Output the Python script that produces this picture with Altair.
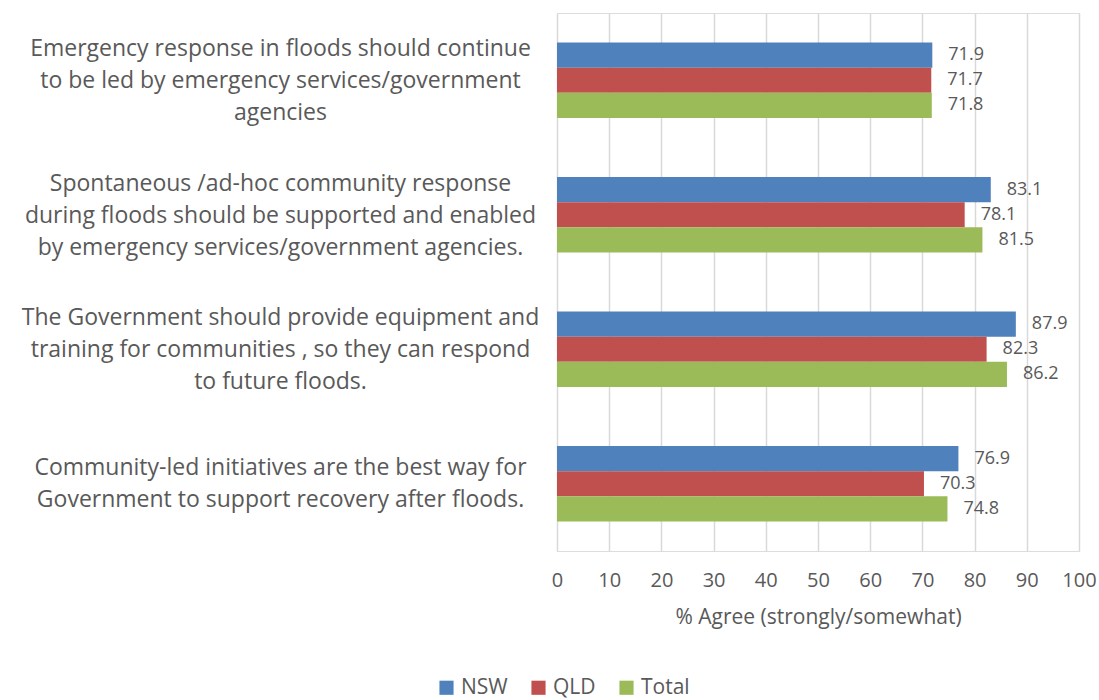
import altair as alt
import pandas as pd

questions = [
    "Emergency response in floods should continue|to be led by emergency services/government|agencies",
    "Spontaneous /ad-hoc community response|during floods should be supported and enabled|by emergency services/government agencies.",
    "The Government should provide equipment and|training for communities , so they can respond|to future floods.",
    "Community-led initiatives are the best way for|Government to support recovery after floods.",
]
series = ["NSW", "QLD", "Total"]
nsw = [71.9, 83.1, 87.9, 76.9]
qld = [71.7, 78.1, 82.3, 70.3]
total = [71.8, 81.5, 86.2, 74.8]
colors = ["#4F81BD", "#C0504D", "#9BBB59"]
ticks = [0, 10, 20, 30, 40, 50, 60, 70, 80, 90, 100]

rows = []
for i, q in enumerate(questions):
    for s, vals in zip(series, [nsw, qld, total]):
        rows.append({"question": q, "series": s, "value": vals[i]})
df = pd.DataFrame(rows)

FONT = "Open Sans"
TXT = "#595959"

y_enc = alt.Y(
    "question:N",
    sort=questions,
    scale=alt.Scale(paddingInner=0.44, paddingOuter=0.22),
    axis=alt.Axis(
        title=None,
        labelExpr="split(datum.label, '|')",
        labelAlign="center",
        labelBaseline="middle",
        labelPadding=277,
        labelOffset={
            "condition": {"test": "length(split(datum.label, '|')) == 2", "value": -16},
            "value": -31,
        },
        ticks=False,
        domain=False,
        grid=False,
        labelFontSize=23,
        labelLimit=700,
        labelLineHeight=32,
        labelColor=TXT,
        labelFont=FONT,
    ),
)
yoff = alt.YOffset("series:N", sort=series)

x_enc = alt.X(
    "value:Q",
    scale=alt.Scale(domain=[0, 100], nice=False),
    axis=alt.Axis(
        values=ticks,
        title="% Agree (strongly/somewhat)",
        titleFont=FONT,
        titleFontSize=21,
        titleFontWeight="normal",
        titleColor=TXT,
        titlePadding=16,
        labelFont=FONT,
        labelFontSize=20,
        labelColor=TXT,
        labelPadding=19,
        labelFlush=False,
        labelOverlap=False,
        ticks=False,
        domain=False,
        grid=True,
        gridColor="#d9d9d9",
        gridWidth=1.5,
    ),
)

bars = alt.Chart(df).mark_bar().encode(
    y=y_enc,
    yOffset=yoff,
    x=x_enc,
    color=alt.Color(
        "series:N",
        sort=series,
        scale=alt.Scale(domain=series, range=colors),
        legend=alt.Legend(
            title=None,
            orient="none",
            direction="horizontal",
            legendX=-121,
            legendY=664,
            symbolType="square",
            symbolSize=200,
            symbolStrokeWidth=0,
            labelFont=FONT,
            labelFontSize=21,
            labelColor=TXT,
            columnPadding=20,
            labelOffset=4,
        ),
    ),
)

labels = alt.Chart(df).mark_text(
    align="left", baseline="middle", dx=16, font=FONT, fontSize=18, color=TXT
).encode(
    y=alt.Y("question:N", sort=questions),
    yOffset=yoff,
    x=alt.X("value:Q"),
    text=alt.Text("value:Q", format=".1f"),
)

chart = (
    alt.layer(bars, labels)
    .properties(
        width=522,
        height=538,
        autosize=alt.AutoSizeParams(type="none"),
        padding={"left": 557, "top": 13, "right": 20, "bottom": 149},
    )
    .configure_view(stroke=None)
    .configure(background="white")
)

chart.save("out.html", embed_options={"renderer": "svg", "actions": False})
